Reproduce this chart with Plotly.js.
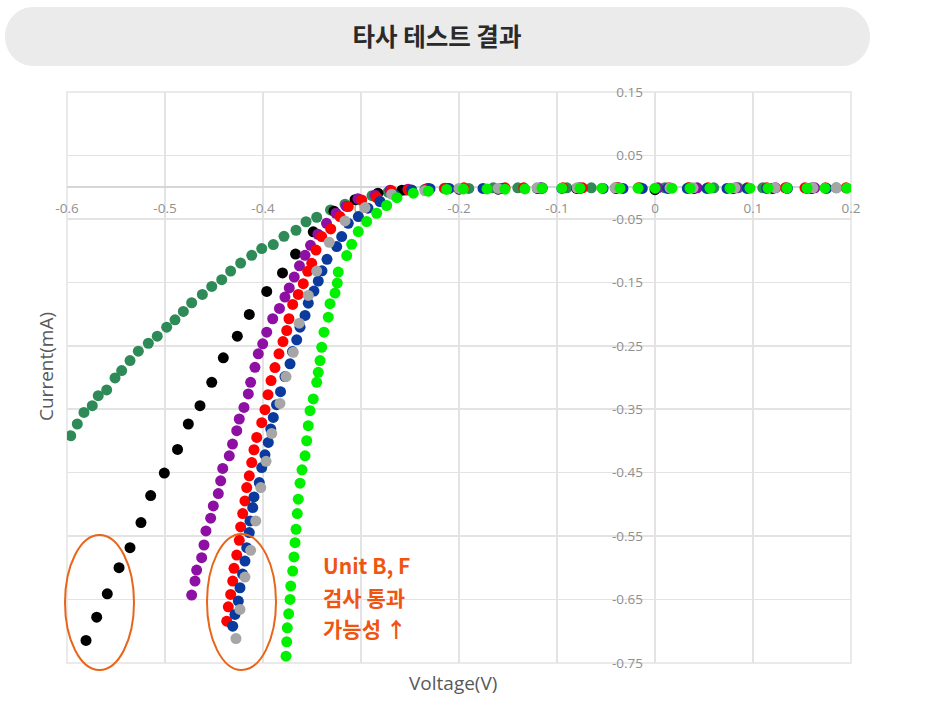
<!DOCTYPE html>
<html>
<head>
<meta charset="utf-8">
<script src="https://cdn.plot.ly/plotly-3.0.1.min.js"></script>
<style>html,body{margin:0;padding:0;background:#fff;}#chart{width:937px;height:710px;}</style>
</head>
<body>
<div id="chart"></div>
<script>
// ---- data (Voltage V, Current mA) ----
const seriesNames = ['Unit A', 'Unit B', 'Unit C', 'Unit D', 'Unit E', 'Unit F', 'Unit G'];

const darkGreenV = [-0.5962,-0.5895,-0.5827,-0.5742,-0.5681,-0.5595,-0.5510,-0.5442,-0.5357,-0.5272,-0.5170,-0.5079,-0.4983,-0.4898,-0.4813,-0.4728,-0.4619,-0.4523,-0.4421,-0.4330,-0.4228,-0.4115,-0.4013,-0.3895,-0.3786,-0.3663,-0.3561,-0.3452,-0.3311,-0.3163,-0.3031,-0.2888,-0.2724,-0.2551,-0.2347,-0.215,-0.19,-0.165,-0.14,-0.115,-0.09,-0.065,-0.04,-0.015,0.01,0.035,0.06,0.085,0.11,0.135,0.16,0.185];
const darkGreenI = [-0.3918,-0.3733,-0.3550,-0.3444,-0.3286,-0.3196,-0.3006,-0.2891,-0.2733,-0.2586,-0.2460,-0.2349,-0.2207,-0.2090,-0.1959,-0.1822,-0.1690,-0.1564,-0.1458,-0.1322,-0.1196,-0.1074,-0.0968,-0.0905,-0.0774,-0.0679,-0.0545,-0.0474,-0.0359,-0.0269,-0.0190,-0.0134,-0.0079,-0.0047,-0.0032,-0.002,-0.002,-0.001,-0.001,-0.001,-0.001,-0.001,-0.001,-0.001,-0.001,-0.001,-0.001,-0.001,-0.001,-0.001,-0.001,-0.001];

const blackV = [-0.5806,-0.5697,-0.5589,-0.5469,-0.5357,-0.5245,-0.5146,-0.5007,-0.4872,-0.4762,-0.4643,-0.4523,-0.4405,-0.4262,-0.4140,-0.3962,-0.3801,-0.3668,-0.3487,-0.3276,-0.3061,-0.2827,-0.2582,-0.2316,-0.2,-0.16,-0.12,-0.08,-0.04,0.0,0.04,0.08,0.12,0.16];
const blackI = [-0.7145,-0.6777,-0.6409,-0.5998,-0.5682,-0.5287,-0.4861,-0.4507,-0.4134,-0.3733,-0.3444,-0.3076,-0.2690,-0.2349,-0.2006,-0.1643,-0.1351,-0.1054,-0.0703,-0.0379,-0.0197,-0.0095,-0.0047,-0.0024,-0.0032,-0.0032,-0.002,-0.002,-0.002,-0.004,-0.002,-0.002,-0.002,-0.002];

const purpleV = [-0.4728,-0.4694,-0.4677,-0.4626,-0.4602,-0.4582,-0.4534,-0.4507,-0.4456,-0.4432,-0.4411,-0.4344,-0.4311,-0.4268,-0.4242,-0.4194,-0.4150,-0.4126,-0.4082,-0.4048,-0.4003,-0.3962,-0.3901,-0.3832,-0.3776,-0.3732,-0.3681,-0.3628,-0.3571,-0.3515,-0.3439,-0.3352,-0.3255,-0.3153,-0.3031,-0.2857,-0.2704,-0.2520,-0.232,-0.212,-0.157,-0.117,-0.077,-0.037,0.003,0.043,0.083,0.123,0.163];
const purpleI = [-0.6430,-0.6209,-0.6035,-0.5840,-0.5640,-0.5419,-0.5218,-0.5024,-0.4829,-0.4629,-0.4434,-0.4234,-0.4049,-0.3839,-0.3654,-0.3471,-0.3259,-0.3076,-0.2839,-0.2627,-0.2469,-0.2286,-0.2074,-0.1912,-0.1733,-0.1588,-0.1417,-0.1240,-0.1074,-0.0916,-0.0742,-0.0569,-0.0411,-0.0300,-0.0182,-0.0126,-0.0047,-0.0032,-0.002,-0.002,-0.002,-0.001,-0.001,-0.001,-0.001,-0.001,-0.001,-0.001,-0.001];

const redV = [-0.4370,-0.4354,-0.4330,-0.4309,-0.4296,-0.4268,-0.4242,-0.4228,-0.4207,-0.4184,-0.4166,-0.4140,-0.4115,-0.4092,-0.4064,-0.4013,-0.3980,-0.3949,-0.3918,-0.3878,-0.3837,-0.3796,-0.3758,-0.3735,-0.3697,-0.3640,-0.3589,-0.3544,-0.3503,-0.3459,-0.3401,-0.3309,-0.3214,-0.3130,-0.2993,-0.2840,-0.2687,-0.2520,-0.2327,-0.2143,-0.195,-0.153,-0.134,-0.094,-0.074,-0.039,-0.017,0.014,0.034,0.054,0.094,0.114,0.133,0.153,0.174,0.195];
const redI = [-0.6840,-0.6614,-0.6419,-0.6209,-0.6008,-0.5798,-0.5566,-0.5355,-0.5145,-0.4945,-0.4735,-0.4550,-0.4340,-0.4139,-0.3945,-0.3712,-0.3507,-0.3270,-0.3049,-0.2844,-0.2627,-0.2433,-0.2259,-0.2074,-0.1848,-0.1690,-0.1521,-0.1327,-0.1201,-0.0991,-0.0779,-0.0659,-0.0463,-0.0305,-0.0201,-0.0163,-0.0058,-0.0043,-0.0032,-0.0016,-0.001,-0.001,-0.001,-0.001,-0.001,-0.001,-0.001,-0.001,-0.001,-0.001,-0.001,-0.001,-0.001,-0.001,-0.001,-0.001];

const blueV = [-0.4309,-0.4286,-0.4252,-0.4235,-0.4209,-0.4184,-0.4166,-0.4140,-0.4133,-0.4105,-0.4092,-0.4038,-0.4013,-0.3980,-0.3946,-0.3921,-0.3895,-0.3862,-0.3821,-0.3776,-0.3724,-0.3699,-0.3656,-0.3622,-0.3571,-0.3538,-0.3480,-0.3436,-0.3398,-0.3347,-0.3248,-0.3197,-0.3130,-0.3027,-0.2929,-0.2806,-0.2653,-0.2483,-0.2296,-0.21,-0.1755,-0.155,-0.1153,-0.095,-0.0765,-0.053,-0.0327,-0.013,0.013,0.033,0.053,0.0735,0.094,0.114,0.135,0.1551,0.175];
const blueI = [-0.6919,-0.6735,-0.6524,-0.6314,-0.6098,-0.5893,-0.5682,-0.5445,-0.5261,-0.5051,-0.4882,-0.4656,-0.4419,-0.4218,-0.4024,-0.3812,-0.3629,-0.3428,-0.3223,-0.2986,-0.2785,-0.2591,-0.2406,-0.2207,-0.2022,-0.1828,-0.1638,-0.1480,-0.1319,-0.1137,-0.0937,-0.0779,-0.0569,-0.0463,-0.0332,-0.0226,-0.0126,-0.0043,-0.0024,-0.002,-0.002,-0.002,-0.002,-0.002,-0.002,-0.002,-0.002,-0.002,-0.002,-0.002,-0.002,-0.002,-0.002,-0.002,-0.002,-0.002,-0.002];

const grayV = [-0.4276,-0.4235,-0.4184,-0.4126,-0.4074,-0.4023,-0.3969,-0.3911,-0.3827,-0.3765,-0.3691,-0.3630,-0.3538,-0.3452,-0.3324,-0.3163,-0.2959,-0.2687,-0.2347,-0.2,-0.1602,-0.1204,-0.0796,-0.0408,0.0153,0.0388,0.0816,0.1224,0.1612,0.185];
const grayI = [-0.7114,-0.6656,-0.6145,-0.5724,-0.5261,-0.4735,-0.4321,-0.3882,-0.3408,-0.2986,-0.2602,-0.2144,-0.1706,-0.1322,-0.0869,-0.0532,-0.0321,-0.0111,-0.0058,-0.002,-0.002,-0.001,-0.001,-0.001,-0.001,-0.001,-0.001,-0.001,-0.001,-0.001];

const limeV = [-0.3765,-0.3758,-0.3752,-0.3738,-0.3724,-0.3717,-0.3697,-0.3684,-0.3673,-0.3663,-0.3650,-0.3640,-0.3622,-0.3602,-0.3571,-0.3554,-0.3538,-0.3520,-0.3487,-0.3452,-0.3436,-0.3418,-0.3401,-0.3378,-0.3334,-0.3316,-0.3265,-0.3242,-0.3232,-0.3146,-0.3095,-0.3028,-0.2942,-0.2840,-0.2738,-0.2633,-0.2466,-0.2313,-0.2126,-0.1956,-0.1714,-0.1531,-0.1327,-0.1153,-0.0949,-0.0765,-0.0541,-0.0357,-0.0173,0.0,0.0173,0.0357,0.0561,0.0765,0.0969,0.1153,0.1347,0.1551,0.1735,0.1959];
const limeI = [-0.7393,-0.7167,-0.6946,-0.6725,-0.6498,-0.6288,-0.6051,-0.5829,-0.5603,-0.5392,-0.5145,-0.4918,-0.4665,-0.4455,-0.4234,-0.3997,-0.3760,-0.3523,-0.3338,-0.3076,-0.2918,-0.2733,-0.2523,-0.2286,-0.2049,-0.1837,-0.1670,-0.1512,-0.1338,-0.1079,-0.0900,-0.0700,-0.0542,-0.0411,-0.0289,-0.0166,-0.0095,-0.0063,-0.0036,-0.0027,-0.0027,-0.0032,-0.0027,-0.0016,-0.0016,-0.0016,-0.0016,-0.0016,-0.0016,-0.0016,-0.0016,-0.0016,-0.0016,-0.0016,-0.0016,-0.0016,-0.0016,-0.0016,-0.0016,-0.0016];

const xTickVals = [-0.6,-0.5,-0.4,-0.3,-0.2,-0.1,0,0.1,0.2];
const xTickText = ['-0.6','-0.5','-0.4','-0.3','-0.2','-0.1','0','0.1','0.2'];
const yTickVals = [0.15,0.05,-0.05,-0.15,-0.25,-0.35,-0.45,-0.55,-0.65,-0.75];
const yTickText = ['0.15','0.05','-0.05','-0.15','-0.25','-0.35','-0.45','-0.55','-0.65','-0.75'];

const titleText = '타사 테스트 결과';
const xTitle = 'Voltage(V)';
const yTitle = 'Current(mA)';
const noteLines = ['Unit B, F', '검사 통과', '가능성 ↑'];

// ---- styling ----
const colors = ['#2e8b57', '#000000', '#8e0fa3', '#ff0000', '#0a3a9e', '#a6a6a6', '#00f000'];
const seriesV = [darkGreenV, blackV, purpleV, redV, blueV, grayV, limeV];
const seriesI = [darkGreenI, blackI, purpleI, redI, blueI, grayI, limeI];

const traces = seriesV.map((v, k) => ({
  type: 'scatter', mode: 'markers', name: seriesNames[k],
  x: v, y: seriesI[k],
  marker: {color: colors[k], size: 11, line: {width: 0}},
  hoverinfo: 'x+y'
}));

// pixel -> paper helpers for decoration placement
const PL = 67, PR = 851, PT = 92, PB = 663;
const px = v => (v - PL) / (PR - PL);
const py = v => (PB - v) / (PB - PT);

function pill(x0, y0, x1, y1, r) {
  const ry = (y1 - y0) / 2, k = 0.5523, ym = (y0 + y1) / 2;
  const P = (a, b) => px(a).toFixed(5) + ',' + py(b).toFixed(5);
  return 'M' + P(x0 + r, y0) + ' L' + P(x1 - r, y0) +
    ' C' + P(x1 - r + k * r, y0) + ' ' + P(x1, ym - k * ry) + ' ' + P(x1, ym) +
    ' C' + P(x1, ym + k * ry) + ' ' + P(x1 - r + k * r, y1) + ' ' + P(x1 - r, y1) +
    ' L' + P(x0 + r, y1) +
    ' C' + P(x0 + r - k * r, y1) + ' ' + P(x0, ym + k * ry) + ' ' + P(x0, ym) +
    ' C' + P(x0, ym - k * ry) + ' ' + P(x0 + r - k * r, y0) + ' ' + P(x0 + r, y0) + ' Z';
}

const gridColor = '#e3e3e3';
const tickFont = {family: 'Open Sans, sans-serif', size: 13.5, color: '#8f8f8f'};
const orange = '#ef5510';

const layout = {
  width: 937, height: 710,
  margin: {l: PL, r: 937 - PR, t: PT, b: 710 - PB},
  paper_bgcolor: '#ffffff', plot_bgcolor: '#ffffff',
  showlegend: false,
  title: {
    text: titleText, xref: 'container', yref: 'container',
    x: 437 / 937, y: 1 - 37 / 710, xanchor: 'center', yanchor: 'middle',
    font: {family: 'Noto Sans CJK KR', size: 24.5, color: '#2a2a2a', weight: 700}
  },
  xaxis: {
    range: [-0.6, 0.2], tickmode: 'array', tickvals: xTickVals, ticktext: xTickText,
    anchor: 'free', position: 0.75 / 0.9, side: 'bottom',
    showgrid: true, gridcolor: gridColor, gridwidth: 1.5,
    zeroline: false, showline: false, ticks: '', ticklabelstandoff: 11,
    tickfont: tickFont, layer: 'below traces', fixedrange: true
  },
  yaxis: {
    range: [-0.75, 0.15], tickmode: 'array', tickvals: yTickVals, ticktext: yTickText,
    anchor: 'free', position: 0.75, side: 'left',
    showgrid: true, gridcolor: gridColor, gridwidth: 1.5,
    zeroline: true, zerolinecolor: '#d6d6d6', zerolinewidth: 2,
    showline: false, ticks: '', ticklabelstandoff: 12,
    tickfont: tickFont, layer: 'below traces', fixedrange: true
  },
  shapes: [
    {type: 'path', xref: 'paper', yref: 'paper', path: pill(5, 7, 870, 66, 28),
     fillcolor: '#ebebeb', line: {width: 0}, layer: 'below'},
    {type: 'rect', xref: 'paper', yref: 'paper', x0: 0, x1: 1, y0: 0, y1: 1,
     line: {color: gridColor, width: 1.5}, layer: 'below'},
    {type: 'circle', xref: 'paper', yref: 'paper', x0: px(65), x1: px(134), y0: py(670), y1: py(535),
     line: {color: '#e8651a', width: 2}, layer: 'above'},
    {type: 'circle', xref: 'paper', yref: 'paper', x0: px(207), x1: px(276), y0: py(670), y1: py(534),
     line: {color: '#e8651a', width: 2}, layer: 'above'}
  ],
  annotations: [
    {text: yTitle, xref: 'paper', yref: 'paper', x: px(46), y: py(367), textangle: -90,
     showarrow: false, xanchor: 'center', yanchor: 'middle',
     font: {family: 'Open Sans, sans-serif', size: 19, color: '#595959'}},
    {text: xTitle, xref: 'paper', yref: 'paper', x: px(453), y: py(683),
     showarrow: false, xanchor: 'center', yanchor: 'middle',
     font: {family: 'Open Sans, sans-serif', size: 19, color: '#595959'}}
  ].concat(noteLines.map((t, i) => ({
    text: t, xref: 'paper', yref: 'paper', x: px(321), y: py(565 + i * 31.5),
    showarrow: false, xanchor: 'left', yanchor: 'middle', align: 'left',
    font: {family: 'Noto Sans CJK KR', size: 21, color: orange, weight: 700}
  })))
};

Plotly.newPlot('chart', traces, layout, {displayModeBar: false, staticPlot: true});
</script>
</body>
</html>
